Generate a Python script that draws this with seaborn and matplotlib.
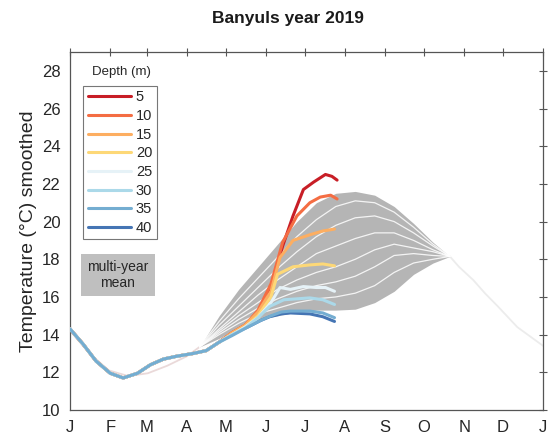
import pandas as pd
import numpy as np
import matplotlib
matplotlib.use("Agg")
import matplotlib.pyplot as plt
import seaborn as sns
from matplotlib.lines import Line2D

# ---- data (day of year, temperature in degC) ----
depths = ["5", "10", "15", "20", "25", "30", "35", "40"]
month_days = [0, 31, 59, 90, 120, 151, 181, 212, 243, 273, 304, 334, 365]
month_labels = ["J", "F", "M", "A", "M", "J", "J", "A", "S", "O", "N", "D", "J"]

# 2019: common part for all depths (Jan -> late April)
common_days = [0, 10, 20, 31, 41, 52, 62, 72, 82, 95, 105, 115]
common_temp = [14.3, 13.5, 12.6, 11.95, 11.7, 11.95, 12.4, 12.7, 12.85, 13.0, 13.15, 13.6]

# 2019: after the depths split
y19_days = {
    "5": [125, 135, 145, 155, 164, 172, 180, 188, 197, 202, 206],
    "10": [125, 135, 145, 155, 164, 175, 185, 193, 201, 206],
    "15": [125, 135, 145, 155, 162, 172, 185, 195, 204],
    "20": [125, 135, 145, 155, 160, 172, 185, 195, 204],
    "25": [125, 135, 145, 155, 162, 170, 180, 190, 197, 204],
    "30": [125, 135, 145, 154, 165, 175, 185, 195, 204],
    "35": [125, 137, 147, 155, 163, 170, 185, 195, 204],
    "40": [121, 137, 147, 154, 163, 170, 185, 195, 204],
}
y19_temp = {
    "5": [14.1, 14.5, 15.2, 16.5, 18.7, 20.3, 21.7, 22.1, 22.5, 22.4, 22.2],
    "10": [14.1, 14.5, 15.3, 16.7, 18.9, 20.3, 21.0, 21.3, 21.4, 21.2],
    "15": [14.1, 14.5, 15.2, 16.3, 18.1, 19.0, 19.3, 19.5, 19.6],
    "20": [14.0, 14.4, 15.0, 16.0, 17.2, 17.6, 17.7, 17.75, 17.65],
    "25": [14.0, 14.4, 14.9, 15.7, 16.5, 16.4, 16.55, 16.5, 16.5, 16.3],
    "30": [14.0, 14.35, 14.9, 15.5, 15.85, 15.9, 15.95, 15.85, 15.6],
    "35": [13.95, 14.4, 14.75, 15.0, 15.2, 15.25, 15.25, 15.15, 14.9],
    "40": [13.9, 14.4, 14.75, 14.95, 15.1, 15.15, 15.1, 14.95, 14.7],
}

# multi-year mean: shared before / after the spread, per depth in between
mean_pre_days = [0, 15, 30, 45, 60, 75, 90, 100]
mean_pre_temp = [14.2, 13.0, 12.1, 11.8, 11.95, 12.35, 12.85, 13.35]
mean_post_days = [293, 300, 311, 320, 330, 345, 355, 365]
mean_post_temp = [18.15, 17.6, 16.9, 16.2, 15.5, 14.4, 13.9, 13.4]
band_days = [100, 115, 130, 145, 160, 175, 190, 205, 220, 235, 250, 265, 280, 293]
mean_temp = {
    "5": [13.35, 15.0, 16.4, 17.6, 18.8, 20.0, 21.0, 21.5, 21.6, 21.4, 20.8, 19.9, 18.9, 18.15],
    "10": [13.35, 14.7, 15.9, 17.0, 18.1, 19.2, 20.1, 20.8, 21.1, 21.0, 20.5, 19.7, 18.8, 18.15],
    "15": [13.35, 14.5, 15.5, 16.5, 17.5, 18.4, 19.2, 19.8, 20.2, 20.3, 20.0, 19.4, 18.7, 18.15],
    "20": [13.35, 14.3, 15.2, 16.1, 16.9, 17.6, 18.3, 18.7, 19.1, 19.4, 19.4, 19.0, 18.5, 18.15],
    "25": [13.35, 14.2, 15.0, 15.7, 16.4, 16.9, 17.3, 17.6, 18.0, 18.5, 18.8, 18.6, 18.4, 18.15],
    "30": [13.35, 14.1, 14.8, 15.4, 15.9, 16.3, 16.6, 16.8, 17.1, 17.6, 18.2, 18.3, 18.2, 18.15],
    "35": [13.35, 14.0, 14.6, 15.1, 15.4, 15.7, 15.9, 16.0, 16.2, 16.6, 17.3, 17.8, 18.0, 18.15],
    "40": [13.35, 13.8, 14.4, 14.8, 15.0, 15.2, 15.3, 15.3, 15.35, 15.7, 16.3, 17.2, 17.8, 18.15],
}

# ---- build long table for seaborn ----
rows = []
for d in depths:
    for day, t in zip(common_days + y19_days[d], common_temp + y19_temp[d]):
        rows.append({"day": day, "temp": t, "depth": d})
df19 = pd.DataFrame(rows)

sns.set_style("white")
plt.rcParams["font.family"] = ["Liberation Sans", "DejaVu Sans"]

colors = ["#c81e26", "#f46d43", "#fdae61", "#fdd877", "#e6f2f7",
          "#abd9e9", "#74add1", "#4575b4"]
palette = dict(zip(depths, colors))

fig = plt.figure(figsize=(5.56, 4.42), dpi=100)
ax = fig.add_axes([0.126, 0.0724, 0.851, 0.81])

# faint multi-year mean line outside the spread
ax.plot(mean_pre_days, mean_pre_temp, color="#ead9d9", lw=1.3, zorder=1)
ax.plot(mean_post_days, mean_post_temp, color="#ececec", lw=1.3, zorder=1)

# grey band of the multi-year means
ax.fill_between(band_days, mean_temp["40"], mean_temp["5"], color="#b5b5b5", lw=0, zorder=2)
for d in depths[1:-1]:
    ax.plot(band_days, mean_temp[d], color="white", lw=0.9, alpha=0.85, zorder=3)

# 2019 lines (deep one drawn first so the shared start looks light blue)
draw_order = ["40"] + depths[:-1]
sns.lineplot(data=df19, x="day", y="temp", hue="depth", hue_order=draw_order,
             palette=palette, lw=2.2, legend=False, sort=False, ax=ax, zorder=4)

ax.set_xlim(0, 365)
ax.set_ylim(10, 29)
ax.set_xticks(month_days)
ax.set_xticklabels(month_labels)
ax.set_yticks(range(10, 29, 2))
ax.tick_params(direction="inout", top=True, right=True, length=6, labelsize=12,
               color="#555555", labelcolor="#262626", pad=4)
for s in ax.spines.values():
    s.set_color("#555555")
    s.set_linewidth(0.9)
ax.set_xlabel("")
ax.set_ylabel("Temperature (\u00b0C) smoothed", fontsize=14, color="#262626", labelpad=3)

# legend with its title above the frame
handles = [Line2D([0], [0], color=palette[d], lw=2.2) for d in depths]
leg = ax.legend(handles, depths, loc="upper left", bbox_to_anchor=(0.028, 0.905),
                borderaxespad=0, fontsize=10.5, handlelength=3.0, handletextpad=0.3,
                labelspacing=0.32, frameon=True, fancybox=False, borderpad=0.3)
leg.get_frame().set_edgecolor("#555555")
leg.get_frame().set_linewidth(0.8)
ax.text(0.108, 0.944, "Depth (m)", transform=ax.transAxes, ha="center", va="center",
        fontsize=9.5, color="#262626")

ax.text(0.101, 0.377, "multi-year\nmean", transform=ax.transAxes, ha="center", va="center",
        fontsize=10, color="#262626", linespacing=1.2,
        bbox=dict(facecolor="#bfbfbf", edgecolor="none", boxstyle="square,pad=0.45"))

fig.text(0.518, 0.959, "Banyuls year 2019", ha="center", va="center",
         fontsize=12.5, fontweight="bold", color="#1a1a1a")

fig.savefig("out.png", dpi=100)
